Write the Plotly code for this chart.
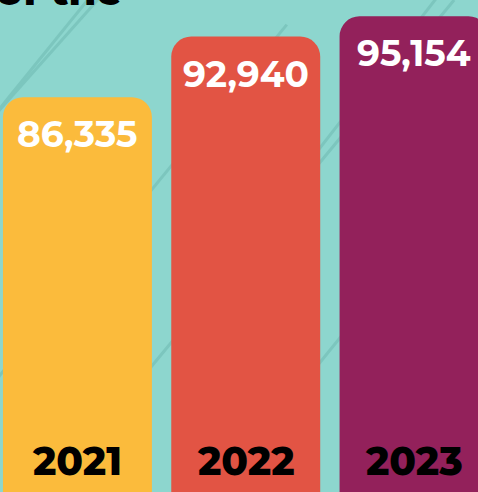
import plotly.graph_objects as go

years = ["2021", "2022", "2023"]
values = [86335, 92940, 95154]
bar_colors = ["#FBBB3C", "#E25444", "#93215B"]
value_labels = ["86,335", "92,940", "95,154"]

fig = go.Figure()
fig.add_trace(go.Bar(
    x=years, y=values, marker=dict(color=bar_colors, line=dict(width=0)),
    width=0.885, hoverinfo="skip",
))

# value labels near top of bars
for i, (yr, v, lab) in enumerate(zip(years, values, value_labels)):
    fig.add_annotation(x=i, y=v, xref="x", yref="y", text=lab, showarrow=False,
                       yanchor="top", yshift=-13,
                       font=dict(family="Montserrat, Inter, Open Sans", size=36, color="white", weight=700))
    fig.add_annotation(x=i, y=0, xref="x", yref="paper", text=yr, showarrow=False,
                       yanchor="bottom", yshift=5,
                       font=dict(family="Montserrat, Inter, Open Sans", size=39, color="black", weight=800))

# cut-off heading text at top-left
fig.add_annotation(x=0, y=1, xref="paper", yref="paper", text="of the", showarrow=False,
                   xanchor="left", yanchor="bottom", xshift=-6, yshift=-17,
                   font=dict(family="Montserrat, Inter, Open Sans", size=40, color="black", weight=800))

# subtle background pattern lines
pattern_lines = [(-0.2, 0.0, 0.6, 0.95), (0.1, 0.0, 0.95, 1.0), (0.45, 0.0, 1.2, 0.9),
                 (-0.3, 0.45, 0.25, 1.05), (0.55, 0.55, 0.95, 1.05), (0.0, 0.78, 0.2, 1.02)]
for x0, y0, x1, y1 in pattern_lines:
    fig.add_shape(type="line", xref="paper", yref="paper", x0=x0, y0=y0, x1=x1, y1=y1,
                  line=dict(color="#7CC6BE", width=3), layer="below")

fig.update_layout(
    width=478, height=492,
    margin=dict(l=0, r=0, t=0, b=0),
    paper_bgcolor="#8DD6CE", plot_bgcolor="#8DD6CE",
    barcornerradius=20,
    showlegend=False,
    xaxis=dict(type="category", range=[-0.46, 2.38], visible=False, fixedrange=True),
    yaxis=dict(range=[43255, 96932], visible=False, fixedrange=True),
)

fig.write_html("out.html", config={"displayModeBar": False},
               post_script="document.body.style.margin='0';document.body.style.overflow='hidden';")
